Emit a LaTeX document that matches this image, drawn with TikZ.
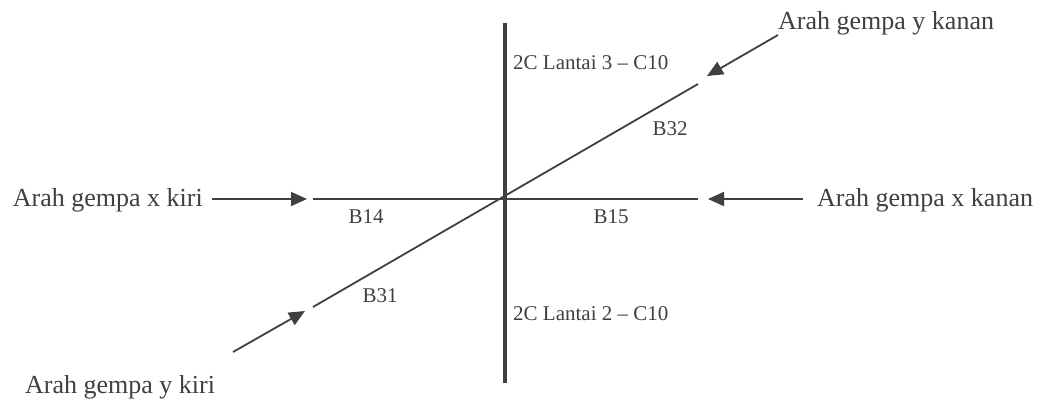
\documentclass[tikz,border=0pt]{standalone}
\usepackage{fontspec}
\setmainfont{Liberation Serif}
\usetikzlibrary{arrows.meta}
\definecolor{GpDark}{RGB}{64,64,64}
\tikzset{
  gp/column/.style={draw=GpDark, line width=4pt},
  gp/beam/.style={draw=GpDark, line width=1.8pt},
  gp/arrow/.style={-{Triangle[length=16pt,width=14pt]}, line width=1.8pt, draw=GpDark},
  gp/title/.style={font=\fontsize{26}{30}\selectfont, text=GpDark, inner sep=0pt},
  gp/tag/.style={font=\fontsize{21}{25}\selectfont, text=GpDark, inner sep=0pt}
}
\begin{document}
\begin{tikzpicture}[x=1pt,y=-1pt]
  \useasboundingbox[fill=white] (0,0) rectangle (1042,401);

  % column and beams
  \coordinate (colTop) at (505,23);
  \coordinate (colBot) at (505,383);
  \coordinate (bxL) at (313,199);
  \coordinate (bxR) at (698,199);
  \coordinate (byL) at (313,307);
  \coordinate (byR) at (698,84);
  \draw[gp/beam] (bxL) -- (bxR);
  \draw[gp/beam] (byL) -- (byR);
  \draw[gp/column] (colTop) -- (colBot);

  % labels
  \node[gp/tag,anchor=base west] (colUp) at (513,70) {2C Lantai 3 -- C10};
  \node[gp/tag,anchor=base west] (colDown) at (513,320) {2C Lantai 2 -- C10};
  \node[gp/tag,anchor=base] (b14) at (366,223) {B14};
  \node[gp/tag,anchor=base] (b15) at (611,223) {B15};
  \node[gp/tag,anchor=base] (b32) at (670,136) {B32};
  \node[gp/tag,anchor=base] (b31) at (380,302) {B31};

  % earthquake directions
  \node[gp/title,anchor=base east] (xKiri) at (203,207) {Arah gempa x kiri};
  \node[gp/title,anchor=base west] (xKanan) at (817,207) {Arah gempa x kanan};
  \node[gp/title,anchor=base west] (yKanan) at (778,30) {Arah gempa y kanan};
  \node[gp/title,anchor=base west] (yKiri) at (25,393) {Arah gempa y kiri};

  \coordinate (xKiriTail) at (212,199);
  \coordinate (xKiriTip) at (307,199);
  \coordinate (xKananTail) at (803,199);
  \coordinate (xKananTip) at (708,199);
  \coordinate (yKananTail) at (778,35);
  \coordinate (yKananTip) at (707,76);
  \coordinate (yKiriTail) at (233,352);
  \coordinate (yKiriTip) at (305,311);
  \draw[gp/arrow] (xKiriTail) -- (xKiriTip);
  \draw[gp/arrow] (xKananTail) -- (xKananTip);
  \draw[gp/arrow] (yKananTail) -- (yKananTip);
  \draw[gp/arrow] (yKiriTail) -- (yKiriTip);
\end{tikzpicture}
\end{document}
